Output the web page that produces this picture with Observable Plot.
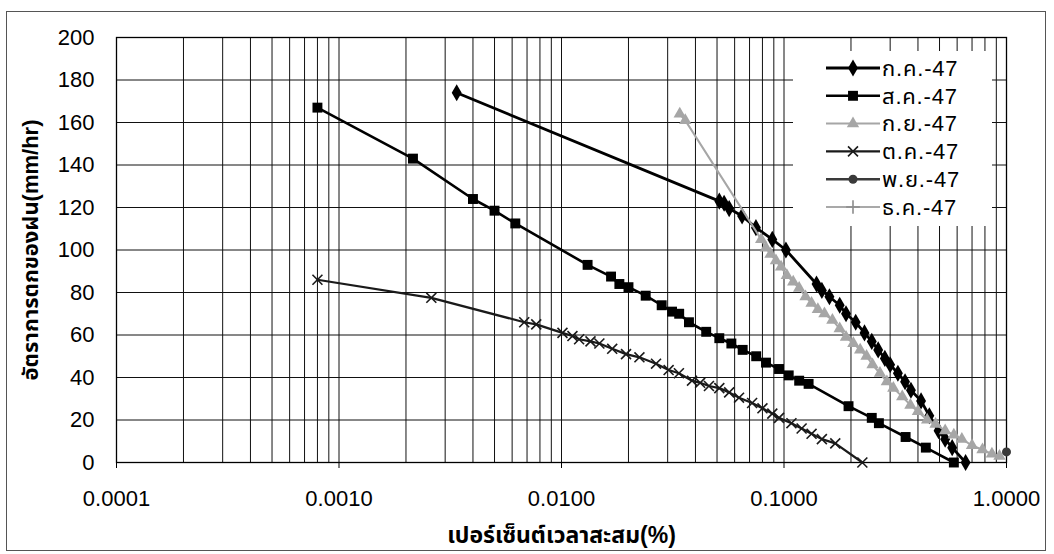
<!DOCTYPE html>
<html><head><meta charset="utf-8">
<script src="https://cdn.jsdelivr.net/npm/d3@7"></script>
<script src="https://cdn.jsdelivr.net/npm/@observablehq/plot@0.6"></script>
<style>
body{margin:0;background:#fff;}
#wrap{position:relative;width:1054px;height:554px;background:#fff;overflow:hidden;}
#border{position:absolute;left:6px;top:11px;width:1040px;height:540px;border:1px solid #555;box-sizing:border-box;pointer-events:none;}
#legend{position:absolute;left:793px;top:51px;width:199px;height:175px;background:#fff;}
</style></head><body>
<div id="wrap"><div id="chart"></div><div id="legend"></div><div id="border"></div></div>
<script>
// ---------- data ----------
const seriesNames = ["ก.ค.-47","ส.ค.-47","ก.ย.-47","ต.ค.-47","พ.ย.-47","ธ.ค.-47"];

const julX = [0.00338,0.0512,0.0538,0.0567,0.0648,0.0748,0.0886,0.102,0.14,0.148,0.16,0.178,0.19,0.21,0.23,0.248,0.265,0.284,0.30,0.325,0.35,0.372,0.413,0.45,0.495,0.53,0.57,0.655];
const julY = [174,123,122,119.5,116,110.5,105,100,84,81,78,74,70,66,61,57,53,49,46,42,38,34,29,22,15,11,7,0];

const augX = [0.0008,0.00215,0.0040,0.0050,0.0062,0.0131,0.0167,0.0182,0.0200,0.0239,0.0282,0.0314,0.0338,0.0374,0.0447,0.0512,0.058,0.0652,0.075,0.083,0.095,0.105,0.117,0.129,0.195,0.248,0.267,0.352,0.434,0.58];
const augY = [167,143,124,118.5,112.5,93,87.5,84,82.5,78.5,74,71,70,66,61.5,58.5,56,53,50,47,44,41,38.5,37,26.5,21,18.5,12,7,0];

const sepX = [0.034,0.036,0.079,0.083,0.087,0.092,0.097,0.103,0.11,0.117,0.125,0.133,0.142,0.152,0.165,0.178,0.19,0.205,0.22,0.235,0.25,0.27,0.29,0.31,0.34,0.37,0.40,0.44,0.48,0.53,0.58,0.63,0.70,0.78,0.86,0.93];
const sepY = [164,161,105,101,98,95,92,88,85,82,78,75,72,70,67,63,59,56,53,50,46,42,38,35,31,27,24,20,18,15,13,11,8,6,4,3];

const octX = [0.0008,0.0026,0.0068,0.0077,0.0101,0.0112,0.012,0.0135,0.0148,0.0169,0.0195,0.0224,0.0266,0.0303,0.0337,0.0386,0.042,0.046,0.0512,0.0567,0.0628,0.0719,0.08,0.0886,0.095,0.108,0.12,0.133,0.148,0.17,0.225];
const octY = [86,77.5,66,65,61,59.5,58,57,56,53.5,51,49.5,46.5,43.5,42,38.5,37.5,36,35,33,30.5,28,25.5,23,21,18.5,16,13.5,11,9,0];

const novX = [1.0];
const novY = [5];

const decX = [];
const decY = [];

const xTickValues = [0.0001,0.001,0.01,0.1,1];
const yTickValues = [0,20,40,60,80,100,120,140,160,180,200];

// ---------- styles per series ----------
const seriesStyle = [
  {x: julX, y: julY, color: "#000", width: 2.8, symbol: "diamond", r: 5.2, filled: true},
  {x: augX, y: augY, color: "#000", width: 2.6, symbol: "square", r: 5.6, filled: true},
  {x: sepX, y: sepY, color: "#a6a6a6", width: 2, symbol: "triangle", r: 4.6, filled: true},
  {x: octX, y: octY, color: "#1a1a1a", width: 2.2, symbol: "times", r: 4.6, filled: false},
  {x: novX, y: novY, color: "#3a3a3a", width: 2.6, symbol: "circle", r: 4.5, filled: true},
  {x: decX, y: decY, color: "#8c8c8c", width: 1.5, symbol: "plus", r: 4.5, filled: false}
];

const minorX = [];
for (let e = -4; e < 0; e++) for (let m = 1; m <= 9; m++) minorX.push(+(m * Math.pow(10, e)).toPrecision(3));
minorX.push(1);

const font = "'Liberation Sans', Arial, 'Noto Sans Thai', 'Noto Sans', sans-serif";

const marks = [
  Plot.ruleX(minorX, {stroke: "#111", strokeWidth: 1}),
  Plot.ruleY(yTickValues, {stroke: "#111", strokeWidth: 1}),
  Plot.frame({stroke: "#000", strokeWidth: 1.3}),
  Plot.axisX(xTickValues, {tickFormat: d => d.toFixed(4), tickSize: 6, tickPadding: 22, fontSize: 22, stroke: "#000", label: null}),
  Plot.axisY(yTickValues, {tickSize: 0, tickPadding: 22, fontSize: 22, label: null}),
  Plot.text(["เปอร์เซ็นต์เวลาสะสม(%)"], {frameAnchor: "bottom", dy: 80, fontSize: 23, fontWeight: "bold", fill: "#000", textAnchor: "middle"}),
  Plot.text(["อัตราการตกของฝน(mm/hr)"], {frameAnchor: "left", dx: -86, rotate: -90, fontSize: 22, fontWeight: "bold", fill: "#000", textAnchor: "middle"})
];

seriesStyle.forEach((s, i) => {
  const data = s.x.map((v, k) => ({x: v, y: s.y[k]}));
  marks.push(Plot.line(data, {x: "x", y: "y", stroke: s.color, strokeWidth: s.width}));
  marks.push(Plot.dot(data, s.filled
    ? {x: "x", y: "y", symbol: s.symbol, r: s.r, fill: s.color}
    : {x: "x", y: "y", symbol: s.symbol, r: s.r, stroke: s.color, strokeWidth: 1.6}));
});

const chart = Plot.plot({
  width: 1054,
  height: 554,
  marginLeft: 116,
  marginRight: 48,
  marginTop: 37,
  marginBottom: 92,
  style: {fontFamily: font, background: "#fff", color: "#000"},
  x: {type: "log", domain: [0.0001, 1], label: null},
  y: {domain: [0, 200], label: null},
  marks
});
document.getElementById("chart").append(chart);

// ---------- legend ----------
const lg = d3.select("#legend").append("svg").attr("width", 199).attr("height", 175);
seriesStyle.forEach((s, i) => {
  const cy = 17 + i * 27.8;
  const g = lg.append("g").attr("transform", `translate(0,${cy})`);
  g.append("line").attr("x1", 33).attr("x2", 87).attr("y1", 0).attr("y2", 0)
    .attr("stroke", s.color).attr("stroke-width", s.width);
  const sym = {diamond: d3.symbolDiamond, square: d3.symbolSquare, triangle: d3.symbolTriangle,
    times: d3.symbolTimes, circle: d3.symbolCircle, plus: d3.symbolPlus}[s.symbol];
  const p = g.append("path").attr("transform", "translate(60,0)")
    .attr("d", d3.symbol(sym, Math.PI * s.r * s.r)());
  if (s.filled) p.attr("fill", s.color); else p.attr("fill", "none").attr("stroke", s.color).attr("stroke-width", 1.6);
  g.append("text").attr("x", 89).attr("y", 0).attr("dy", "0.35em")
    .attr("font-family", font).attr("font-size", 22).attr("letter-spacing", "0.8px")
    .attr("fill", "#000").text(seriesNames[i]);
});
</script>
</body></html>
